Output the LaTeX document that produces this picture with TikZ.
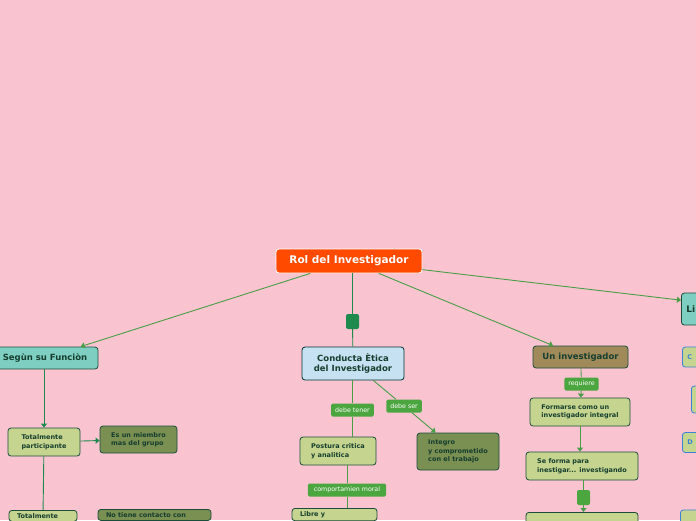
\documentclass[tikz,border=0pt]{standalone}
\usepackage{fontspec}
\setmainfont{DejaVu Sans}
\usetikzlibrary{arrows.meta}

\definecolor{bgpink}{HTML}{F9C4D0}
\definecolor{rootred}{HTML}{FF4A00}
\definecolor{txtgreen}{HTML}{163E2E}
\definecolor{bordgreen}{HTML}{1B4D3A}
\definecolor{tealbox}{HTML}{7ECEC2}
\definecolor{bluebox}{HTML}{C6E1F1}
\definecolor{brownbox}{HTML}{A08A5A}
\definecolor{lightolive}{HTML}{C5D48E}
\definecolor{darkolive}{HTML}{7A8F52}
\definecolor{taggreen}{HTML}{4CA640}
\definecolor{linkgreen}{HTML}{4A9E48}
\definecolor{deepgreen}{HTML}{1E8A4E}
\definecolor{edgeblue}{HTML}{3B82D6}

\tikzset{
  base/.style={rounded corners=3pt, line width=0.8pt, align=center, inner sep=2pt, text=txtgreen},
  main/.style={base, draw=white, fill=rootred, text=white, font=\fontsize{10.5}{12}\selectfont\bfseries},
  topic/.style={base, draw=bordgreen, font=\fontsize{8.5}{10.5}\selectfont\bfseries},
  sub/.style={base, draw=bordgreen, fill=lightolive, align=left, font=\fontsize{6.5}{8.5}\selectfont\bfseries},
  leaf/.style={sub, fill=darkolive},
  cut/.style={anchor=north, inner ysep=3pt, inner xsep=8pt, align=left},
  side/.style={base, draw=edgeblue, fill=lightolive, text=edgeblue, anchor=west, align=left, font=\fontsize{6.5}{8.5}\selectfont\bfseries},
  knot/.style={rounded corners=2pt, minimum width=13pt, minimum height=15pt, inner sep=0pt},
  tag/.style={rounded corners=1.5pt, fill=taggreen, text=white, inner xsep=4pt, inner ysep=2pt, minimum height=13pt, font=\fontsize{6.3}{7.5}\selectfont},
  link/.style={draw=linkgreen, line width=0.9pt},
  deeplink/.style={draw=deepgreen, line width=0.9pt},
  tip/.style={-{Triangle[width=6pt,length=4pt]}},
}

\begin{document}
\begin{tikzpicture}[x=1pt,y=-1pt]
    \fill[bgpink] (0,0) rectangle (696,520);
    \useasboundingbox (0,0) rectangle (696,520);

    % central topic
    \node[main, minimum width=146, minimum height=24] (rol) at (349,261) {Rol del Investigador};

    % main topics
    \node[topic, fill=tealbox, minimum width=106, minimum height=22] (funcion) at (45,358) {Segùn su Funciòn};
    \node[knot, fill=deepgreen] (k1) at (352.5,321.5) {};
    \node[topic, fill=bluebox, draw=black!60!teal, minimum width=102, minimum height=33] (etica) at (353,363.5) {Conducta Ètica\\del Investigador};
    \node[topic, fill=brownbox, minimum width=95, minimum height=22] (uninv) at (580.5,357) {Un investigador};
    \node[topic, fill=tealbox, font=\fontsize{9}{11}\selectfont\bfseries\rmfamily, anchor=west, minimum width=150, minimum height=32, text width=140, align=left] (lider) at (681,309) {Li};

    % left branch
    \node[sub, minimum width=72, minimum height=28] (tpart) at (44,442) {Totalmente\\participante};
    \node[leaf, minimum width=77, minimum height=27] (miembro) at (138.5,439.5) {Es un miembro\\mas del grupo};
    \node[sub, cut, text width=52] (tobs) at (43,510) {Totalmente};
    \node[leaf, cut, text width=97] (nocont) at (154.5,509) {No tiene contacto con};

    % middle branch
    \node[tag] (tener) at (352.5,410) {debe tener};
    \node[tag] (ser) at (404,406) {debe ser};
    \node[sub, minimum width=76, minimum height=28] (postura) at (338,451) {Postura critica\\y analitica};
    \node[leaf, minimum width=82, minimum height=37] (integro) at (458,451.5) {Integro\\y comprometido\\con el trabajo};
    \node[tag, inner xsep=6pt] (moral) at (347,490) {comportamien moral};
    \node[sub, cut, text width=69] (libre) at (334.5,508) {Libre y};

    % right branch
    \node[tag] (req) at (581.5,384) {requiere};
    \node[sub, minimum width=100, minimum height=28] (formarse) at (580,412) {Formarse como un\\ investigador integral};
    \node[sub, minimum width=112, minimum height=28] (seforma) at (582,466) {Se forma para\\inestigar... investigando};
    \node[knot, fill=taggreen] (k2) at (583.5,497.5) {};
    \node[sub, anchor=north, minimum width=112, minimum height=20] (nextbox) at (582,512) {};

    % far right column
    \node[side, minimum width=40, minimum height=20, text width=30] (c1) at (682,357) {C};
    \node[side, minimum width=30, minimum height=27] (c2) at (691,399.5) {};
    \node[side, minimum width=40, minimum height=20, text width=30] (d1) at (682,442.5) {D};
    \node[side, minimum width=40, minimum height=20] (c4) at (680,520) {};

    % connectors
    \draw[link, tip] (rol) -- (funcion);
    \draw[link, tip] (rol) -- (uninv);
    \draw[link, tip] (rol) -- (lider);
    \draw[deeplink] (k1) -- (k1 |- rol.south);
    \draw[deeplink] (k1) -- (etica);

    \draw[deeplink, tip] (funcion.south -| tpart) -- (tpart);
    \draw[deeplink, tip] (tpart) -- (miembro);
    \draw[deeplink] (tpart) -- (tobs);

    \draw[link] (tener |- etica.south) -- (tener);
    \draw[link] (tener) -- (tener |- postura.north);
    \draw[link] (etica) -- (ser);
    \draw[link, tip] (ser) -- (integro);
    \draw[link] (moral) -- (moral |- postura.south);
    \draw[link] (moral) -- (moral |- libre.north);

    \draw[link] (uninv) -- (req);
    \draw[link, tip] (req) -- (formarse);
    \draw[link, tip] (formarse) -- (formarse |- seforma.north);
    \draw[link] (k2 |- seforma.south) -- (k2);
    \draw[link, tip] (k2) -- (k2 |- nextbox.north);
\end{tikzpicture}
\end{document}
